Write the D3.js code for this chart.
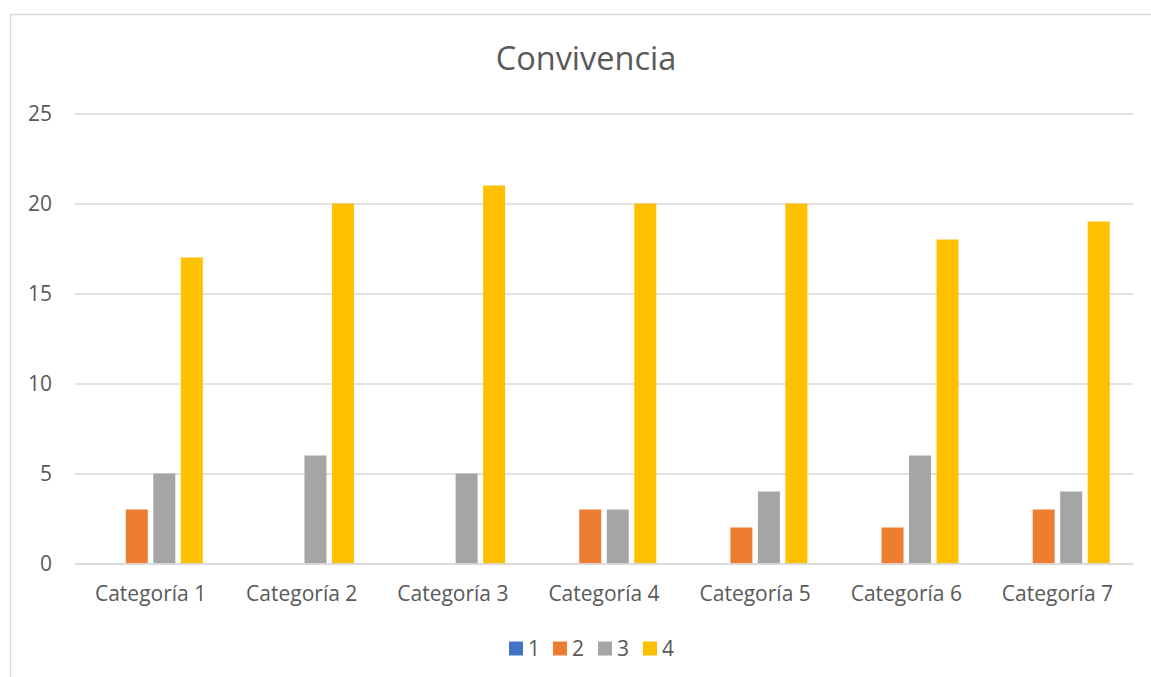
<!DOCTYPE html>
<html><head><meta charset="utf-8">
<script src="https://cdn.jsdelivr.net/npm/d3@7"></script>
<style>body{margin:0;background:#fff}svg{display:block}text{font-family:"Open Sans","Noto Sans",sans-serif;fill:#595959}</style>
</head><body>
<svg id="c" width="1151" height="677"></svg>
<script>
const categories = ["Categoría 1","Categoría 2","Categoría 3","Categoría 4","Categoría 5","Categoría 6","Categoría 7"];
const seriesNames = ["1","2","3","4"];
const s1 = [0,0,0,0,0,0,0];
const s2 = [3,0,0,3,2,2,3];
const s3 = [5,6,5,3,4,6,4];
const s4 = [17,20,21,20,20,18,19];
const yTicks = [0,5,10,15,20,25];
const colors = ["#4472C4","#ED7D31","#A5A5A5","#FFC000"];
const title = "Convivencia";
const seriesVals = [s1,s2,s3,s4];
const FONT = "'Open Sans','Noto Sans',sans-serif";

const svg = d3.select("#c");
svg.append("rect").attr("x",10.5).attr("y",14.5).attr("width",1160).attr("height",700)
  .attr("fill","#fff").attr("stroke","#D9D9D9").attr("stroke-width",1.5);

const L=75, R=1133, T=113.5, B=563.5;
const y = d3.scaleLinear().domain([0,25]).range([B,T]);
const x0 = d3.scaleBand().domain(categories).range([L,R]).paddingInner(0.272).paddingOuter(0.136);
const x1 = d3.scaleBand().domain(seriesNames).range([0,x0.bandwidth()]).paddingInner(0.2).paddingOuter(0.1);

svg.append("text").attr("x",586).attr("y",70).attr("text-anchor","middle")
  .style("font-size","32.5px").style("font-family",FONT).text(title);

const yAxis = d3.axisLeft(y).tickValues(yTicks).tickSize(-(R-L)).tickPadding(23);
const gy = svg.append("g").attr("transform",`translate(${L},0)`).call(yAxis);
gy.select(".domain").remove();
gy.selectAll(".tick line").attr("stroke","#D9D9D9").attr("stroke-width",1.5);
gy.selectAll(".tick text").style("font-size","21px").style("font-family",FONT).attr("fill","#595959");

const groups = svg.append("g").selectAll("g").data(categories).join("g")
  .attr("transform",d=>`translate(${x0(d)},0)`);
groups.selectAll("rect").data((d,i)=>seriesNames.map((s,j)=>({s,v:seriesVals[j][i],c:colors[j]})))
  .join("rect")
  .attr("x",d=>x1(d.s)).attr("width",x1.bandwidth())
  .attr("y",d=>y(d.v)).attr("height",d=>B-y(d.v))
  .attr("fill",d=>d.c);

const xAxis = d3.axisBottom(x0).tickSize(0).tickPadding(23);
const gx = svg.append("g").attr("transform",`translate(0,${B})`).call(xAxis);
gx.select(".domain").attr("stroke","#D9D9D9").attr("stroke-width",1.5);
gx.selectAll(".tick text").style("font-size","21px").style("font-family",FONT).attr("fill","#595959");

const legX = [509,553,598,643];
const leg = svg.append("g").selectAll("g").data(seriesNames).join("g")
  .attr("transform",(d,i)=>`translate(${legX[i]},641.5)`);
leg.append("rect").attr("width",14).attr("height",14).attr("fill",(d,i)=>colors[i]);
leg.append("text").attr("x",19).attr("y",14.5).style("font-size","21px").style("font-family",FONT).text(d=>d);
</script>
</body></html>
